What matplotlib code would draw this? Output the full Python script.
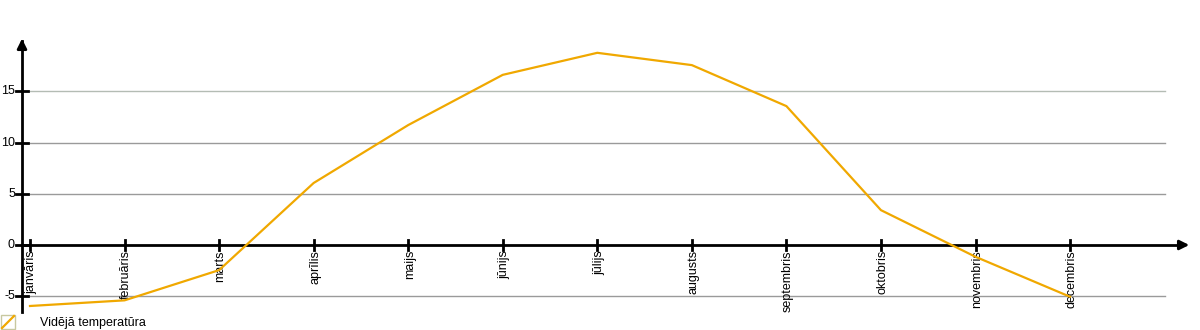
import matplotlib.pyplot as plt
from matplotlib.patches import Rectangle
from matplotlib.lines import Line2D

# mēneši un vidējā temperatūra
menesi = ["janvāris", "februāris", "marts", "aprīlis", "maijs", "jūnijs",
          "jūlijs", "augusts", "septembris", "oktobris", "novembris", "decembris"]
temperatura = [-5.95, -5.4, -2.45, 6.05, 11.7, 16.6, 18.75, 17.55, 13.55, 3.4, -1.15, -5.05]
y_ticks = [-5, 0, 5, 10, 15]
legend_label = "Vidējā temperatūra"

W, H = 1200, 330
fig = plt.figure(figsize=(12, 3.3), dpi=100)
ax = fig.add_axes([0, 0, 1, 1])
ax.set_axis_off()

# pikseļi -> dati
x0, dx = 30, 94.55
y0, dy = 245, 10.25
ax.set_xlim(-x0 / dx, (W - x0) / dx)
ax.set_ylim((y0 - H) / dy, y0 / dy)

x_left = (22 - x0) / dx
x_right = (1192 - x0) / dx
y_top = (y0 - 36) / dy
y_bot = (y0 - 312) / dy

# režģa līnijas
for v in y_ticks:
    if v == 0:
        continue
    col = "#b4bcb4" if v == 15 else "#9a9a9a"
    ax.plot([0.0, len(menesi)], [v, v], color=col, lw=1.0, zorder=1)

# asis ar bultām
ax.plot([x_left, x_left], [y_bot, y_top - 0.5], color="black", lw=2, zorder=3)
ax.annotate("", xy=(x_left, y_top), xytext=(x_left, y_top - 1.5),
            arrowprops=dict(arrowstyle="-|>", color="black", lw=2, mutation_scale=14))
ax.plot([x_left, x_right - 0.1], [0, 0], color="black", lw=2, zorder=3)
ax.annotate("", xy=(x_right, 0), xytext=(x_right - 0.15, 0),
            arrowprops=dict(arrowstyle="-|>", color="black", lw=2, mutation_scale=14))

# y ass iedaļas
tick_w = 6 / dx
for v in y_ticks:
    ax.plot([x_left - tick_w, x_left + tick_w], [v, v], color="black", lw=2, zorder=3)
    ax.text((15 - x0) / dx, v, str(v), ha="right", va="center", fontsize=9,
            family="Liberation Sans")

# x ass iedaļas un nosaukumi
tick_h = 5 / dy
for i, m in enumerate(menesi):
    ax.plot([i, i], [-tick_h, tick_h], color="black", lw=2, zorder=3)
    ax.text(i + 1.5 / dx, -5 / dy, m, rotation=90, ha="center", va="top", fontsize=9,
            family="Liberation Sans")

# temperatūras līkne
ax.plot(range(len(menesi)), temperatura, color="#f0a800", lw=1.6, zorder=4)

# leģenda
fig.patches.append(Rectangle((1, 1), 14, 14, transform=None, fill=False,
                             edgecolor="#c8c8a0", lw=1))
fig.lines.append(Line2D([2, 14], [2, 14], transform=None, color="#f0a800", lw=1.6))
fig.text(40 / W, 7 / H, legend_label, ha="left", va="center", fontsize=9,
         family="Liberation Sans")

fig.savefig("out.png", dpi=100)
